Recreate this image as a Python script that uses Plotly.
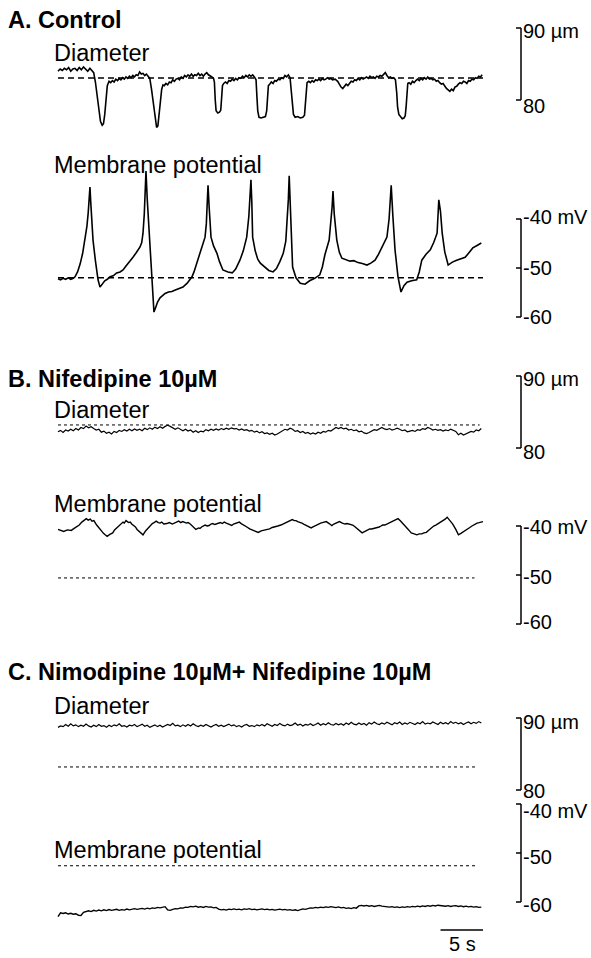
import plotly.graph_objects as go

W, H = 591, 958

# ---------------- data ----------------
# Panel A – control: diameter (µm) and membrane potential (mV) vs time (s)
a_diam = [
    (0.0, 84.0), (0.25, 84.3), (0.5, 84.1), (0.75, 84.4), (1.0, 84.2), (1.25, 84.5), (1.5, 84.0),
    (1.75, 84.3), (2.0, 84.4), (2.25, 84.1), (2.5, 84.5), (2.75, 84.2), (3.0, 84.6), (3.25, 84.3),
    (3.5, 84.0), (3.75, 84.4), (4.0, 84.1), (4.2, 83.8),
    (4.4, 82.5), (4.6, 80.5), (4.8, 78.5), (5.0, 77.0), (5.2, 76.5), (5.35, 76.7), (5.5, 78.0),
    (5.65, 80.5), (5.8, 82.0), (6.0, 82.6), (6.2, 82.4),
    (6.4, 82.7), (6.6, 82.5), (6.8, 82.9), (7.0, 82.7), (7.2, 83.0), (7.4, 82.8), (7.6, 83.1),
    (7.8, 82.9), (8.0, 83.2), (8.2, 83.0), (8.4, 83.3), (8.6, 83.1), (8.8, 83.4), (9.0, 83.2),
    (9.2, 83.5), (9.4, 83.4), (9.6, 83.9), (9.8, 83.6), (10.0, 83.7), (10.2, 83.4), (10.4, 83.6),
    (10.6, 83.3), (10.8, 83.0),
    (11.0, 81.5), (11.2, 79.5), (11.4, 77.5), (11.6, 76.2), (11.75, 76.4), (11.9, 77.8),
    (12.05, 79.8), (12.2, 81.5), (12.35, 82.1),
    (12.5, 82.0), (12.7, 82.3), (12.9, 82.1), (13.1, 82.5), (13.3, 82.4), (13.5, 82.8), (13.7, 82.6),
    (13.9, 82.9), (14.1, 83.0), (14.3, 82.8), (14.5, 83.2), (14.7, 83.0), (14.9, 83.4), (15.1, 83.2),
    (15.3, 83.5), (15.5, 83.3), (15.7, 83.6), (15.9, 83.3), (16.1, 83.5), (16.3, 83.4), (16.5, 83.7),
    (16.7, 83.4), (16.9, 83.6), (17.1, 83.3), (17.3, 83.6), (17.5, 83.8), (17.7, 83.5), (17.9, 83.4),
    (18.1, 83.2), (18.3, 83.0),
    (18.4, 82.5), (18.5, 80.0), (18.6, 78.5), (18.8, 78.2), (19.0, 78.3), (19.15, 78.6),
    (19.25, 80.5), (19.35, 82.0), (19.5, 82.3),
    (19.7, 82.5), (19.9, 82.3), (20.1, 82.7), (20.3, 82.6), (20.5, 82.9), (20.7, 82.7), (20.9, 83.0),
    (21.1, 82.8), (21.3, 83.1), (21.5, 83.0), (21.7, 83.3), (21.9, 83.1), (22.1, 83.4), (22.3, 83.2),
    (22.5, 83.5), (22.7, 83.3), (22.9, 83.5), (23.1, 83.2), (23.3, 82.8),
    (23.4, 80.5), (23.5, 78.5), (23.65, 77.6), (23.9, 77.5), (24.15, 77.6), (24.4, 77.7),
    (24.55, 78.5), (24.65, 80.5), (24.75, 82.0),
    (24.9, 82.2), (25.1, 82.5), (25.3, 82.3), (25.5, 82.7), (25.7, 82.6), (25.9, 82.9), (26.1, 82.8),
    (26.3, 83.1), (26.5, 83.0), (26.7, 83.4), (26.9, 83.2), (27.1, 83.5), (27.3, 83.1),
    (27.45, 81.5), (27.55, 79.5), (27.7, 78.0), (27.9, 77.6), (28.2, 77.7), (28.5, 77.5),
    (28.8, 77.6), (29.0, 77.9), (29.1, 79.5), (29.2, 81.5), (29.3, 82.4),
    (29.5, 82.6), (29.7, 82.4), (29.9, 82.7), (30.1, 82.5), (30.3, 82.8), (30.5, 82.7), (30.7, 82.9),
    (30.9, 82.7), (31.1, 83.0), (31.3, 82.8), (31.5, 82.9), (31.7, 83.1), (31.9, 82.9), (32.1, 83.0),
    (32.3, 82.8), (32.6, 82.9), (32.9, 82.6), (33.1, 82.1), (33.3, 81.8), (33.5, 81.6), (33.7, 81.9),
    (33.9, 82.2), (34.1, 82.0), (34.3, 82.4), (34.5, 82.6), (34.7, 82.5), (34.9, 82.8), (35.1, 82.7),
    (35.3, 83.0), (35.5, 82.8), (35.7, 83.1), (35.9, 82.9), (36.1, 83.0), (36.3, 83.2), (36.5, 83.0),
    (36.7, 83.3), (36.9, 83.1), (37.1, 83.2), (37.3, 83.0), (37.5, 83.3), (37.7, 83.2), (37.9, 83.4),
    (38.1, 83.3), (38.3, 83.6), (38.5, 83.8), (38.7, 83.4), (38.9, 83.1), (39.1, 83.2), (39.3, 83.0),
    (39.5, 83.1), (39.7, 82.8),
    (39.85, 81.0), (39.95, 79.0), (40.1, 78.0), (40.3, 77.6), (40.5, 77.4), (40.7, 77.5),
    (40.85, 77.8), (40.95, 79.0), (41.05, 81.0), (41.15, 82.3),
    (41.3, 82.4), (41.5, 82.2), (41.7, 82.6), (41.9, 82.4), (42.1, 82.7), (42.3, 82.9), (42.5, 82.7),
    (42.7, 83.0), (42.9, 82.8), (43.1, 83.1), (43.3, 82.9), (43.5, 83.2), (43.7, 82.9), (43.9, 83.0),
    (44.1, 82.8), (44.3, 82.9), (44.5, 82.6), (44.7, 82.7), (44.9, 82.4), (45.1, 82.2), (45.3, 82.3),
    (45.5, 81.9), (45.7, 81.6), (45.9, 81.4), (46.1, 81.2), (46.3, 81.5), (46.5, 81.3), (46.7, 81.8),
    (46.9, 81.9), (47.1, 82.2), (47.3, 82.4), (47.5, 82.3), (47.7, 82.6), (47.9, 82.5), (48.1, 82.3),
    (48.3, 82.7), (48.5, 82.6), (48.7, 82.9), (48.9, 82.8), (49.1, 83.1), (49.3, 83.0), (49.5, 83.3),
    (49.7, 83.2), (49.9, 83.5),
]

a_vm = [
    (0.0, -52.2), (0.3, -52.4), (0.6, -52.1), (0.9, -52.3), (1.2, -52.0), (1.5, -52.3), (1.8, -52.1),
    (2.0, -51.8), (2.3, -50.8), (2.6, -49.2), (2.9, -47.0), (3.2, -44.2), (3.4, -41.5), (3.55, -38.8),
    (3.65, -36.0), (3.76, -33.5), (3.85, -36.5), (3.95, -40.5), (4.12, -44.3), (4.4, -48.5),
    (4.71, -52.4), (4.94, -53.9), (5.2, -53.2), (5.5, -52.6), (5.8, -52.3), (6.12, -51.8),
    (6.5, -51.6), (6.9, -51.0), (7.3, -50.8), (7.65, -50.4), (8.0, -49.6), (8.4, -48.6),
    (8.82, -47.8), (9.2, -46.9), (9.65, -45.7), (9.85, -44.8), (10.0, -42.9), (10.15, -39.0),
    (10.25, -35.0), (10.35, -30.2), (10.5, -36.0), (10.7, -42.0), (10.9, -47.0), (11.06, -51.0),
    (11.29, -59.0), (11.5, -58.0), (11.7, -57.0), (12.0, -56.1), (12.3, -55.7), (12.6, -55.2),
    (13.0, -54.9), (13.4, -54.8), (13.8, -54.5), (14.2, -54.2), (14.7, -53.9), (15.2, -53.1),
    (15.5, -52.5), (15.76, -51.8), (16.0, -50.8), (16.3, -49.2), (16.7, -47.0), (17.0, -45.3),
    (17.3, -43.7), (17.45, -41.0), (17.55, -37.0), (17.65, -33.1), (17.78, -37.5), (18.0, -43.7),
    (18.3, -45.5), (18.7, -47.0), (19.0, -48.7), (19.4, -50.4), (20.0, -50.8), (20.5, -51.0),
    (20.9, -50.2), (21.4, -48.4), (21.8, -46.5), (22.2, -43.7), (22.45, -39.5), (22.6, -35.0),
    (22.7, -32.0), (22.8, -36.5), (22.9, -43.7), (23.2, -46.5), (23.5, -48.2), (23.8, -49.0),
    (24.3, -49.8), (24.8, -50.5), (25.3, -50.8), (25.7, -50.1), (26.1, -48.7), (26.5, -47.0),
    (26.8, -44.5), (27.0, -40.0), (27.1, -36.0), (27.2, -31.2), (27.35, -37.0), (27.6, -49.8),
    (28.0, -52.0), (28.5, -53.1), (29.06, -53.3), (29.6, -52.6), (30.2, -52.1), (30.8, -51.4),
    (31.1, -49.8), (31.4, -47.3), (31.9, -44.3), (32.1, -41.0), (32.25, -37.5), (32.35, -34.3),
    (32.5, -39.0), (32.8, -44.3), (33.1, -46.8), (33.4, -48.0), (33.9, -48.4), (34.35, -48.6),
    (34.8, -48.5), (35.3, -48.9), (35.8, -49.1), (36.35, -49.4), (36.8, -49.0), (37.3, -48.4),
    (37.7, -47.2), (38.1, -45.7), (38.7, -43.7), (38.95, -40.0), (39.1, -36.0), (39.2, -33.1),
    (39.4, -39.5), (39.65, -46.3), (40.0, -51.8), (40.35, -54.9), (40.7, -53.6), (41.06, -52.9),
    (41.6, -52.6), (42.2, -52.4), (42.5, -50.8), (42.8, -48.4), (43.3, -47.2), (43.8, -46.3),
    (44.2, -44.8), (44.6, -42.9), (44.8, -36.1), (45.0, -38.5), (45.2, -42.9), (45.5, -46.7),
    (45.9, -49.4), (46.4, -48.8), (46.9, -48.4), (47.4, -48.1), (47.9, -47.8), (48.3, -47.0),
    (48.8, -45.9), (49.3, -45.4), (49.8, -44.9),
]

# Panel B – nifedipine 10 µM
sample_dt_s = 0.3  # sampling interval of the evenly sampled traces (s)

b_diam_um = [
    82.25, 82.45, 82.15, 82.5, 82.35, 82.6, 82.4, 82.7, 82.5, 82.85,
    82.7, 83.05, 82.8, 82.95, 82.7, 82.5, 82.6, 82.2, 82.35, 82.05,
    82.2, 81.95, 82.3, 82.15, 82.45, 82.3, 82.55, 82.35, 82.6, 82.4,
    82.65, 82.45, 82.6, 82.4, 82.75, 82.55, 82.8, 82.6, 82.9, 82.7,
    82.95, 82.75, 83.0, 83.15, 83.0, 82.85, 82.6, 82.8, 82.55, 82.4,
    82.6, 82.35, 82.5, 82.2, 82.4, 82.15, 82.35, 82.25, 82.55, 82.4,
    82.6, 82.45, 82.65, 82.5, 82.7, 82.55, 82.75, 82.6, 82.8, 82.65,
    82.7, 82.5, 82.65, 82.45, 82.55, 82.35, 82.45, 82.2, 82.35, 82.1,
    82.25, 82.0, 82.1, 81.9, 82.05, 81.8, 81.95, 82.2, 82.45, 82.6,
    82.5, 82.75, 82.6, 82.3, 82.4, 82.15, 82.3, 82.05, 82.15, 81.95,
    82.1, 81.95, 82.2, 82.05, 82.3, 82.2, 82.45, 82.35, 82.6, 82.85,
    82.7, 82.85, 82.65, 82.75, 82.5, 82.6, 82.4, 82.5, 82.25, 82.35,
    82.1, 82.0, 82.15, 82.3, 82.55, 82.45, 82.7, 82.85, 82.65, 82.55,
    82.7, 82.5, 82.6, 82.75, 82.6, 82.4, 82.5, 82.25, 82.35, 82.45,
    82.3, 82.55, 82.45, 82.7, 82.6, 82.85, 82.7, 82.5, 82.6, 82.45,
    82.55, 82.35, 82.5, 82.4, 82.6, 82.45, 82.3, 81.85, 82.05, 81.8,
    82.0, 82.15, 82.3, 82.2, 82.5, 82.4, 82.7,
]

b_vm = [
    (0.0, -40.7), (0.35, -40.9), (0.67, -41.1), (1.1, -40.8), (1.56, -40.9), (1.9, -40.5),
    (2.22, -40.2), (2.5, -39.8), (2.8, -39.2), (3.05, -38.9), (3.33, -38.5), (3.55, -38.8),
    (3.8, -38.6), (4.0, -39.0), (4.22, -38.9), (4.55, -39.8), (4.89, -40.6), (5.1, -41.1),
    (5.35, -41.5), (5.55, -41.8), (5.78, -42.1), (6.1, -41.7), (6.44, -41.4), (6.65, -40.8),
    (6.9, -40.4), (7.1, -40.0), (7.33, -39.6), (7.65, -39.2), (7.8, -39.4), (8.0, -38.9),
    (8.3, -39.3), (8.5, -39.2), (8.67, -39.6), (9.11, -40.2), (9.3, -40.7), (9.55, -41.1),
    (9.8, -41.5), (10.0, -41.8), (10.3, -41.0), (10.67, -40.2), (10.9, -39.9), (11.1, -39.5),
    (11.3, -39.3), (11.56, -39.0), (11.8, -39.3), (12.0, -39.4), (12.2, -39.2), (12.44, -39.6),
    (12.8, -39.5), (13.1, -39.3), (13.45, -39.6), (13.78, -39.4), (14.0, -39.2), (14.2, -39.0),
    (14.45, -39.3), (14.67, -39.1), (15.1, -39.4), (15.3, -39.3), (15.56, -39.6), (15.9, -40.2),
    (16.22, -40.7), (16.55, -40.4), (16.7, -40.5), (16.89, -40.2), (17.1, -39.9), (17.3, -39.8),
    (17.55, -40.0), (17.78, -39.9), (18.0, -39.6), (18.2, -39.5), (18.45, -39.7), (18.67, -39.6),
    (18.9, -39.4), (19.1, -39.3), (19.35, -39.5), (19.56, -39.2), (19.8, -39.4), (20.0, -39.6),
    (20.2, -39.8), (20.44, -39.9), (20.65, -39.6), (20.9, -39.4), (21.1, -39.3), (21.33, -39.2),
    (21.55, -39.5), (21.8, -39.7), (22.0, -40.0), (22.22, -40.2), (22.55, -40.6), (22.9, -40.8),
    (23.2, -41.1), (23.56, -41.3), (23.9, -41.0), (24.2, -40.9), (24.55, -40.8), (24.89, -40.6),
    (25.2, -40.3), (25.5, -40.1), (25.85, -40.0), (26.22, -39.8), (26.55, -39.5), (26.9, -39.2),
    (27.2, -39.0), (27.56, -38.7), (27.8, -38.9), (28.0, -38.9), (28.2, -39.1), (28.44, -39.2),
    (28.7, -39.4), (28.9, -39.6), (29.1, -39.8), (29.33, -39.9), (29.55, -40.1), (29.78, -40.4),
    (30.0, -40.2), (30.2, -40.0), (30.45, -39.8), (30.67, -39.6), (30.9, -39.4), (31.1, -39.3),
    (31.3, -39.2), (31.56, -39.1), (31.9, -39.5), (32.22, -39.9), (32.45, -39.6), (32.7, -39.4),
    (32.9, -39.3), (33.11, -39.1), (33.45, -39.4), (33.78, -39.6), (34.0, -39.5), (34.2, -39.6),
    (34.45, -39.7), (34.67, -39.8), (34.9, -40.1), (35.2, -40.6), (35.5, -41.0), (35.78, -41.4),
    (36.0, -41.2), (36.2, -41.0), (36.45, -40.8), (36.67, -40.6), (36.9, -40.6), (37.2, -40.5),
    (37.5, -40.4), (37.78, -40.2), (38.0, -40.0), (38.2, -39.8), (38.45, -39.8), (38.67, -39.6),
    (39.0, -39.4), (39.3, -39.1), (39.65, -38.8), (40.0, -38.5), (40.3, -39.0), (40.67, -39.6),
    (40.9, -40.0), (41.1, -40.5), (41.3, -40.9), (41.56, -41.4), (41.9, -41.6), (42.05, -41.7),
    (42.22, -41.8), (42.5, -41.6), (42.8, -41.6), (43.05, -41.4), (43.33, -41.3), (43.65, -40.8),
    (44.0, -40.2), (44.2, -40.0), (44.45, -39.8), (44.65, -39.6), (44.89, -39.4), (45.1, -39.1),
    (45.3, -38.9), (45.55, -38.6), (45.78, -38.2), (46.1, -38.8), (46.44, -39.6), (46.8, -40.7),
    (47.11, -41.8), (47.4, -41.5), (47.7, -41.2), (47.95, -40.9), (48.22, -40.6), (48.45, -40.3),
    (48.7, -40.0), (48.9, -39.8), (49.11, -39.5), (49.3, -39.4), (49.55, -39.3), (49.8, -39.2),
    (50.0, -39.1),
]

# Panel C – nimodipine 10 µM + nifedipine 10 µM
c_diam_um = [
    88.7, 88.9, 88.8, 89.1, 88.85, 89.2, 88.9, 89.05, 88.8, 89.0,
    88.85, 89.15, 88.9, 88.75, 89.0, 88.8, 89.1, 88.85, 88.95, 88.7,
    89.0, 88.8, 89.05, 88.9, 89.2, 88.85, 88.95, 88.75, 89.0, 88.9,
    89.1, 88.8, 88.95, 89.15, 88.85, 89.0, 88.7, 88.9, 89.05, 88.8,
    89.0, 88.75, 88.9, 89.1, 88.95, 89.25, 88.9, 89.0, 88.8, 89.05,
    88.85, 89.1, 88.9, 89.2, 88.95, 88.8, 89.0, 88.85, 89.1, 88.9,
    88.75, 88.95, 89.1, 88.85, 89.0, 88.8, 88.95, 89.15, 88.9, 89.05,
    88.8, 88.95, 88.75, 89.0, 89.1, 88.85, 88.95, 88.8, 89.05, 88.9,
    89.1, 88.9, 89.2, 89.0, 88.85, 89.1, 88.95, 89.25, 89.0, 88.9,
    89.15, 88.95, 89.05, 89.3, 89.0, 89.15, 88.9, 89.1, 89.0, 89.2,
    88.95, 89.1, 89.3, 89.0, 89.2, 89.05, 89.35, 89.1, 89.0, 89.25,
    89.05, 89.2, 89.0, 89.3, 89.1, 89.4, 89.15, 89.05, 89.3, 89.1,
    89.25, 89.0, 89.35, 89.15, 89.45, 89.2, 89.1, 89.3, 89.15, 89.4,
    89.2, 89.05, 89.35, 89.2, 89.45, 89.1, 89.3, 89.15, 89.4, 89.25,
    89.1, 89.35, 89.2, 89.5, 89.15, 89.3, 89.2, 89.45, 89.25, 89.1,
    89.4, 89.2, 89.35, 89.15, 89.5, 89.25, 89.4, 89.2, 89.35, 89.1,
    89.3, 89.45, 89.2, 89.4, 89.25, 89.5, 89.3,
]

c_vm_mv = [
    -63.0, -62.2, -62.35, -62.2, -62.45, -62.3, -62.5, -62.4, -62.7, -62.75,
    -62.1, -61.9, -61.8, -61.95, -61.7, -61.85, -61.65, -61.8, -61.6, -61.75,
    -61.55, -61.7, -61.6, -61.5, -61.7, -61.55, -61.65, -61.45, -61.6, -61.5,
    -61.35, -61.5, -61.4, -61.3, -61.45, -61.25, -61.4, -61.2, -61.3, -61.1,
    -61.2, -61.0, -60.95, -61.6, -61.7, -61.5, -61.35, -61.4, -61.2, -61.25,
    -61.05, -61.1, -60.9, -61.0, -60.85, -61.05, -60.95, -61.1, -60.9, -61.05,
    -61.0, -61.2, -61.1, -61.45, -61.6, -61.5, -61.65, -61.45, -61.55, -61.4,
    -61.55, -61.45, -61.6, -61.4, -61.5, -61.35, -61.55, -61.45, -61.6, -61.5,
    -61.4, -61.55, -61.45, -61.6, -61.5, -61.65, -61.55, -61.45, -61.6, -61.5,
    -61.65, -61.55, -61.7, -61.6, -61.75, -61.65, -61.4, -61.5, -61.3, -61.2,
    -61.25, -61.1, -61.2, -61.05, -61.15, -61.0, -61.1, -60.95, -61.05, -61.15,
    -61.0, -61.2, -61.1, -61.3, -61.2, -61.35, -61.15, -61.25, -60.8, -60.7,
    -60.8, -60.7, -60.85, -60.75, -60.9, -60.8, -60.7, -60.85, -60.95, -60.9,
    -61.05, -60.95, -61.1, -61.0, -61.15, -61.0, -61.1, -60.95, -61.05, -60.9,
    -61.0, -60.85, -60.95, -60.8, -60.9, -60.75, -60.85, -60.7, -60.8, -60.65,
    -60.75, -60.7, -60.85, -60.75, -60.9, -60.8, -60.75, -60.9, -60.8, -60.95,
    -60.85, -61.0, -60.9, -61.05, -60.95, -61.1, -61.05,
]

# dashed reference levels: (value, end time in s)
a_diam_ref = (83.06, 50.0)
a_vm_ref = (-52.0, 50.0)
b_diam_ref = (83.2, 49.6)
b_vm_ref = (-50.6, 49.0)
c_diam_ref = (83.2, 49.3)
c_vm_ref = (-52.6, 49.3)

# scale bars
diam_bar_um = (80, 90)
vm_bar_mv = (-60, -50, -40)
time_bar_s = (45, 50)

panel_titles = ["A. Control", "B. Nifedipine 10µM", "C. Nimodipine 10µM+ Nifedipine 10µM"]

# ---------------- layout geometry (pixels) ----------------
X0_PX, PX_PER_S = 58, 8.5
# (reference value, pixel row of that value, pixels per unit)
axes_geom = {
    "y":  (90, 28, 7.2),
    "y2": (-40, 219, 4.9),
    "y3": (90, 376, 7.2),
    "y4": (-40, 526, 4.9),
    "y5": (90, 718, 7.2),
    "y6": (-40, 804, 4.9),
}

FONT = "Liberation Sans, Arial, Helvetica, sans-serif"


def yrange(ref_val, ref_px, ppu):
    return [ref_val - (H - ref_px) / ppu, ref_val + ref_px / ppu]


def py(px):  # pixel row -> paper fraction
    return 1 - px / H


def pxx(px):
    return px / W


fig = go.Figure()


def add_trace(t, v, yax, width):
    fig.add_trace(go.Scatter(x=t, y=v, mode="lines", yaxis=yax, xaxis="x",
                             line=dict(color="black", width=width), hoverinfo="skip"))


def add_ref(ref, yax, dash, width):
    val, t_end = ref
    fig.add_trace(go.Scatter(x=[0, t_end], y=[val, val], mode="lines", yaxis=yax, xaxis="x",
                             line=dict(color="black", width=width, dash=dash), hoverinfo="skip"))


def unzip(pairs):
    return [p[0] for p in pairs], [p[1] for p in pairs]


def even_t(vals):
    return [i * sample_dt_s for i in range(len(vals))]


# dashed baselines first (under traces)
add_ref(a_diam_ref, "y", "6px,4px", 1.4)
add_ref(a_vm_ref, "y2", "6px,4px", 1.4)
add_ref(b_diam_ref, "y3", "3px,3px", 1.0)
add_ref(b_vm_ref, "y4", "3px,3px", 1.0)
add_ref(c_diam_ref, "y5", "3px,3px", 1.0)
add_ref(c_vm_ref, "y6", "3px,3px", 1.0)

t, v = unzip(a_diam)
add_trace(t, v, "y", 1.6)
t, v = unzip(a_vm)
add_trace(t, v, "y2", 1.6)
add_trace(even_t(b_diam_um), b_diam_um, "y3", 1.2)
t, v = unzip(b_vm)
add_trace(t, v, "y4", 1.4)
add_trace(even_t(c_diam_um), c_diam_um, "y5", 1.2)
add_trace(even_t(c_vm_mv), c_vm_mv, "y6", 1.4)

shapes = []
BAR_X = pxx(521)
TICK_X = pxx(516)
line_style = dict(color="black", width=1.5)
for yax in ("y", "y3", "y5"):
    lo, hi = diam_bar_um
    shapes.append(dict(type="line", xref="paper", yref=yax, x0=BAR_X, x1=BAR_X, y0=lo, y1=hi, line=line_style))
    for val in (lo, hi):
        shapes.append(dict(type="line", xref="paper", yref=yax, x0=TICK_X, x1=BAR_X, y0=val, y1=val, line=line_style))
for yax in ("y2", "y4", "y6"):
    shapes.append(dict(type="line", xref="paper", yref=yax, x0=BAR_X, x1=BAR_X,
                       y0=vm_bar_mv[0], y1=vm_bar_mv[-1], line=line_style))
    for val in vm_bar_mv:
        shapes.append(dict(type="line", xref="paper", yref=yax, x0=TICK_X, x1=BAR_X, y0=val, y1=val, line=line_style))
shapes.append(dict(type="line", xref="x", yref="paper", x0=time_bar_s[0], x1=time_bar_s[1],
                   y0=py(930), y1=py(930), line=line_style))

annotations = []


def label(text, x_px, y_px, size=22, anchor="left"):
    annotations.append(dict(text=text, x=pxx(x_px), y=py(y_px), xref="paper", yref="paper",
                            xanchor=anchor, yanchor="middle", showarrow=False,
                            font=dict(family=FONT, size=size, color="black")))


# titles
for title, ypx in zip(panel_titles, (20, 379, 672)):
    label("<b>" + title + "</b>", 6, ypx, 23.5)
# trace labels
for text, ypx in (("Diameter", 53), ("Membrane potential", 165),
                  ("Diameter", 410), ("Membrane potential", 504),
                  ("Diameter", 706), ("Membrane potential", 850)):
    label(text, 52, ypx, 23.5)
# scale bar labels
for text, ypx in (("90 µm", 31), ("80", 106), ("-40 mV", 217), ("-50", 268), ("-60", 317),
                  ("90 µm", 379), ("80", 452), ("-40 mV", 527), ("-50", 577), ("-60", 622),
                  ("90 µm", 722), ("80", 791), ("-40 mV", 811), ("-50", 857), ("-60", 905)):
    label(text, 521, ypx, 20)
label("5 s", 462, 944, 20, anchor="center")

layout = dict(
    width=W, height=H, margin=dict(l=0, r=0, t=0, b=0),
    paper_bgcolor="white", plot_bgcolor="white", showlegend=False,
    xaxis=dict(range=[-X0_PX / PX_PER_S, (W - X0_PX) / PX_PER_S], domain=[0, 1],
               visible=False, fixedrange=True),
    shapes=shapes, annotations=annotations,
)
for name, (rv, rpx, ppu) in axes_geom.items():
    key = "yaxis" if name == "y" else "yaxis" + name[1:]
    ax = dict(range=yrange(rv, rpx, ppu), domain=[0, 1], visible=False, fixedrange=True)
    if name != "y":
        ax["overlaying"] = "y"
    layout[key] = ax
fig.update_layout(**layout)

fig.write_html("out.html", config={"displayModeBar": False},
               post_script="document.body.style.margin='0';document.body.style.overflow='hidden';")
